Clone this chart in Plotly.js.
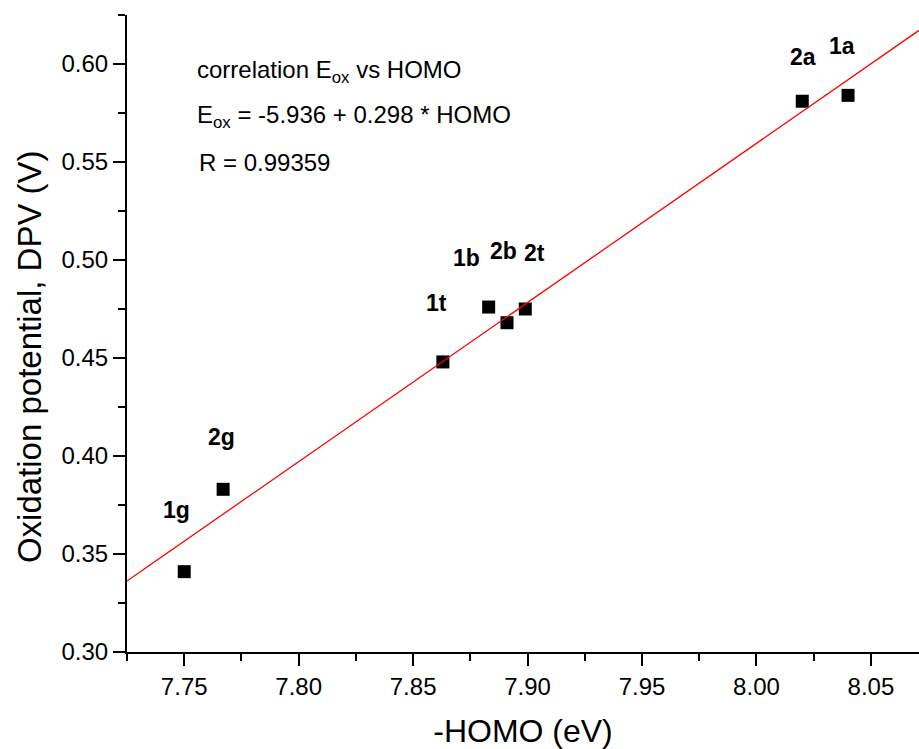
<!DOCTYPE html>
<html>
<head>
<meta charset="utf-8">
<script src="https://cdn.plot.ly/plotly-3.0.1.min.js"></script>
<style>
  html, body { margin: 0; padding: 0; background: #ffffff; }
  #chart { width: 919px; height: 749px; }
</style>
</head>
<body>
<div id="chart"></div>
<script>
// Oxidation potential (DPV) against -HOMO energy for each compound
const samples = ['1g', '2g', '1t', '1b', '2b', '2t', '2a', '1a'];
const homo    = [7.750, 7.767, 7.863, 7.883, 7.891, 7.899, 8.020, 8.040];
const eox     = [0.341, 0.383, 0.448, 0.476, 0.468, 0.475, 0.581, 0.584];

// Text block describing the fit
const fitTitle = 'correlation E<sub>ox</sub> vs HOMO';
const fitEquation = 'E<sub>ox</sub> = -5.936 + 0.298 * HOMO';
const fitR = 'R = 0.99359';

// Axis ranges
const xRange = [7.725, 8.071];
const yRange = [0.30, 0.625];

// Pixel offsets of each sample label from its marker [dx, dy(up)]
const labelShift = [[-8, 62], [-2, 52], [-6, 59], [-22, 49], [-3, 72], [9, 56], [1, 44], [-6, 49]];

// Least-squares straight line through the points
function linearFit(xs, ys) {
  const n = xs.length;
  const mx = xs.reduce((a, b) => a + b, 0) / n;
  const my = ys.reduce((a, b) => a + b, 0) / n;
  let sxy = 0, sxx = 0;
  for (let i = 0; i < n; i++) {
    sxy += (xs[i] - mx) * (ys[i] - my);
    sxx += (xs[i] - mx) * (xs[i] - mx);
  }
  const slope = sxy / sxx;
  return { slope: slope, intercept: my - slope * mx };
}
const fit = linearFit(homo, eox);
const fitX = [xRange[0], xRange[1]];
const fitY = fitX.map(x => fit.intercept + fit.slope * x);

const FONT = '"Liberation Sans", Arial, sans-serif';

const points = {
  x: homo, y: eox, type: 'scatter', mode: 'markers',
  marker: { symbol: 'square', size: 13, color: '#000000' },
  hoverinfo: 'x+y', showlegend: false
};
const fitLine = {
  x: fitX, y: fitY, type: 'scatter', mode: 'lines',
  line: { color: '#ff0000', width: 1.3 },
  hoverinfo: 'skip', showlegend: false
};

const annotations = samples.map((s, i) => ({
  x: homo[i], y: eox[i], xref: 'x', yref: 'y',
  text: '<b>' + s + '</b>', showarrow: false,
  xanchor: 'center', yanchor: 'middle',
  xshift: labelShift[i][0], yshift: labelShift[i][1],
  font: { family: FONT, size: 23, color: '#000000' }
}));

const infoFont = { family: FONT, size: 24, color: '#000000' };
annotations.push(
  { xref: 'paper', yref: 'paper', x: 0.0859, y: 0.912, xanchor: 'left', yanchor: 'middle',
    text: fitTitle, showarrow: false, font: infoFont },
  { xref: 'paper', yref: 'paper', x: 0.0859, y: 0.841, xanchor: 'left', yanchor: 'middle',
    text: fitEquation, showarrow: false, font: infoFont },
  { xref: 'paper', yref: 'paper', x: 0.0884, y: 0.769, xanchor: 'left', yanchor: 'middle',
    text: fitR, showarrow: false, font: infoFont },
  // vertical axis title
  { xref: 'paper', yref: 'paper', x: -0.1237, y: 0.463, xanchor: 'center', yanchor: 'middle',
    textangle: -90, text: 'Oxidation potential, DPV (V)', showarrow: false,
    font: { family: FONT, size: 33, color: '#000000' } }
);

const axisCommon = {
  showgrid: false, zeroline: false,
  showline: true, linecolor: '#000000', linewidth: 2,
  ticks: 'outside', ticklen: 12, tickwidth: 2, tickcolor: '#000000',
  tickfont: { family: FONT, size: 24, color: '#000000' },
  minor: { ticks: 'outside', ticklen: 7, tickwidth: 2, tickcolor: '#000000' }
};

const layout = {
  width: 919, height: 749,
  margin: { l: 127, r: 0, t: 15, b: 97 },
  paper_bgcolor: '#ffffff', plot_bgcolor: '#ffffff',
  font: { family: FONT, color: '#000000' },
  xaxis: Object.assign({}, axisCommon, {
    range: xRange, tick0: 7.75, dtick: 0.05, tickformat: '.2f',
    minor: Object.assign({}, axisCommon.minor, { dtick: 0.025, tick0: 7.725 }),
    title: { text: '-HOMO (eV)', font: { family: FONT, size: 32, color: '#000000' }, standoff: 21 }
  }),
  yaxis: Object.assign({}, axisCommon, {
    range: yRange, tick0: 0.30, dtick: 0.05, tickformat: '.2f',
    minor: Object.assign({}, axisCommon.minor, { dtick: 0.025, tick0: 0.30 })
  }),
  annotations: annotations
};

Plotly.newPlot('chart', [points, fitLine], layout, { displayModeBar: false, staticPlot: true });
</script>
</body>
</html>
